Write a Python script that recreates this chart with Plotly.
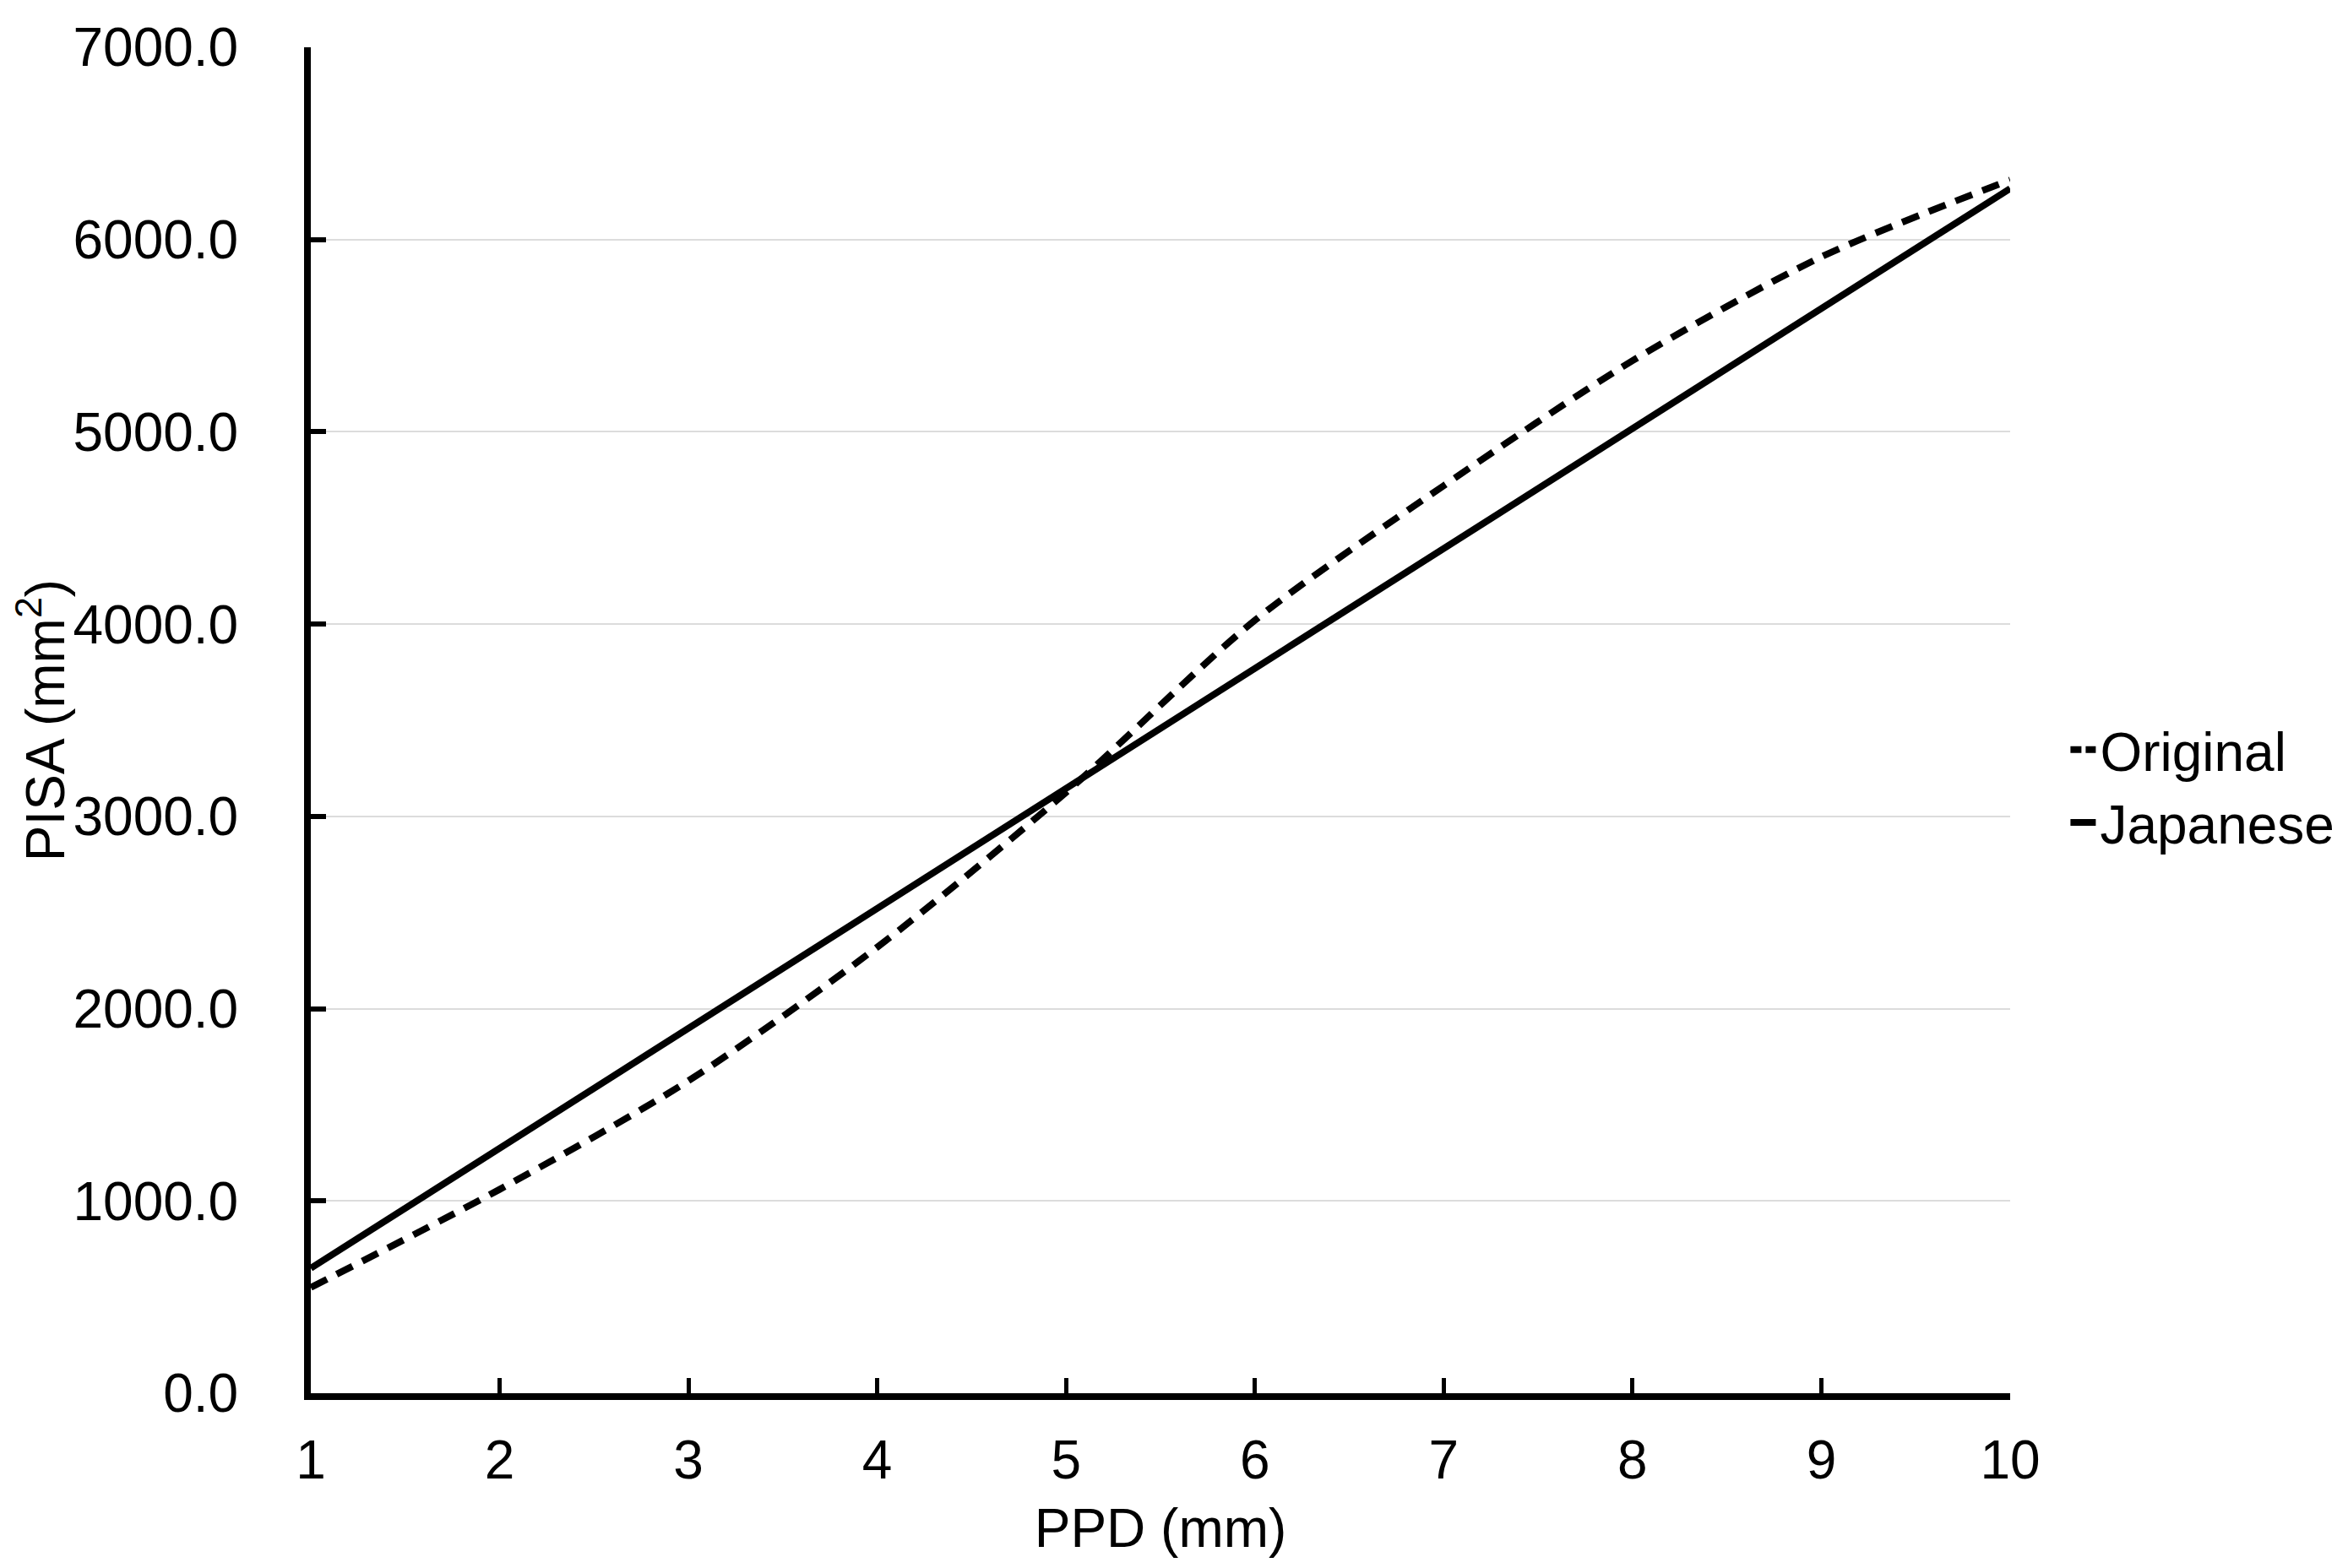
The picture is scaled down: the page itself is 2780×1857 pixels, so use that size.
import plotly.graph_objects as go

ppd = [1, 2, 3, 4, 5, 6, 7, 8, 9, 10]
original = [550, 1060, 1625, 2320, 3125, 4020, 4720, 5370, 5910, 6310]
japanese = [650, 1274, 1898, 2522, 3146, 3770, 4394, 5018, 5642, 6265]

FONT = "Liberation Sans, Arial, sans-serif"

fig = go.Figure()
fig.add_trace(go.Scatter(
    x=ppd, y=original, name="Original", mode="lines", showlegend=False,
    line=dict(color="black", width=8, dash="21px,13px", shape="spline", smoothing=0.8),
))
fig.add_trace(go.Scatter(
    x=ppd, y=japanese, name="Japanese", mode="lines", showlegend=False,
    line=dict(color="black", width=8),
))
# legend entries (same series, legend sample styling)
fig.add_trace(go.Scatter(
    x=[None], y=[None], name="Original", mode="lines",
    line=dict(color="black", width=8, dash="13px,5px"),
))
fig.add_trace(go.Scatter(
    x=[None], y=[None], name="Japanese", mode="lines",
    line=dict(color="black", width=8),
))

fig.update_layout(
    width=2780, height=1857,
    margin=dict(l=360, r=408, t=38, b=215),
    paper_bgcolor="white", plot_bgcolor="white",
    font=dict(family=FONT, size=64, color="black"),
    showlegend=True,
    legend=dict(x=1.033, xanchor="left", y=0.451, yanchor="middle",
                font=dict(size=64), itemwidth=30, tracegroupgap=0,
                bgcolor="rgba(0,0,0,0)"),
)
fig.update_xaxes(
    range=[1, 10], tickmode="array", tickvals=ppd, ticktext=[str(v) for v in ppd],
    showgrid=False, zeroline=False,
    showline=True, linecolor="black", linewidth=8,
    ticks="inside", ticklen=18, tickwidth=5, tickcolor="black",
    ticklabelstandoff=16,
    title=dict(text="PPD (mm)", font=dict(size=64), standoff=26),
)
fig.update_yaxes(
    range=[0, 7000], tickmode="linear", tick0=0, dtick=1000, tickformat=".1f",
    showgrid=True, gridcolor="#dcdcdc", gridwidth=2, zeroline=False,
    showline=True, linecolor="black", linewidth=8,
    ticks="inside", ticklen=18, tickwidth=6, tickcolor="black",
    ticklabelstandoff=65,
    title=dict(text="PISA (mm<sup>2</sup>)", font=dict(size=64), standoff=10),
)

fig.write_html("out.html")
